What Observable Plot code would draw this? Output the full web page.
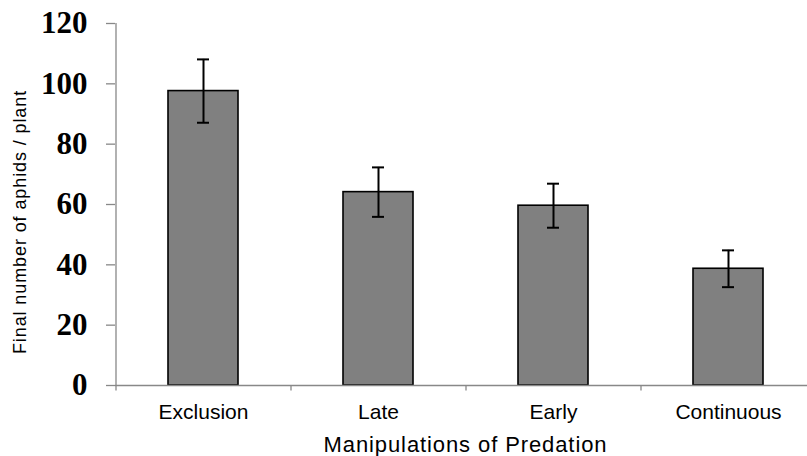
<!DOCTYPE html>
<html>
<head>
<meta charset="utf-8">
<script src="https://cdn.jsdelivr.net/npm/d3@7"></script>
<script src="https://cdn.jsdelivr.net/npm/@observablehq/plot@0.6"></script>
<style>
  html, body { margin: 0; padding: 0; background: #fff; }
</style>
</head>
<body>
<div id="chart"></div>
<script>
const categories = ["Exclusion", "Late", "Early", "Continuous"];
const means = [97.6, 64.1, 59.6, 38.7];
const errors = [10.5, 8.2, 7.3, 6.1];
const yTicks = [0, 20, 40, 60, 80, 100, 120];
const yTitle = "Final number of aphids / plant";
const xTitle = "Manipulations of Predation";

const data = categories.map((c, i) => ({c, m: means[i], e: errors[i]}));
const gray = "#888";
const halfStep = 87.5;

const chart = Plot.plot({
  width: 807,
  height: 456,
  marginLeft: 115,
  marginRight: 0,
  marginTop: 23,
  marginBottom: 71,
  style: {fontFamily: "'Liberation Sans', Arial, sans-serif", background: "white", color: "#000"},
  x: {domain: categories, range: [115, 815], paddingInner: 0.6, paddingOuter: 0.3},
  y: {domain: [0, 120]},
  marks: [
    Plot.barY(data, {x: "c", y: "m", fill: "#808080", stroke: "#000", strokeWidth: 1.6}),
    Plot.ruleY([0], {stroke: gray, strokeWidth: 1.3}),
    Plot.ruleX([categories[0]], {x: d => d, dx: -halfStep, y1: 0, y2: 120, stroke: gray, strokeWidth: 1.3}),
    Plot.ruleX(categories, {x: d => d, dx: -halfStep, y1: 0, y2: -1.8, stroke: gray, strokeWidth: 1.3}),
    Plot.axisY({ticks: yTicks, tickSize: 9, tickPadding: 19, stroke: gray, strokeWidth: 1.3, fill: "#000",
      fontSize: 31, fontWeight: "bold", fontFamily: "'Liberation Serif', 'Times New Roman', serif", label: null}),
    Plot.axisX({tickSize: 0, tickPadding: 19, fontSize: 21, fill: "#000", label: null}),
    Plot.ruleX(data, {x: "c", y1: d => d.m - d.e, y2: d => d.m + d.e, stroke: "#000", strokeWidth: 2}),
    Plot.tickY(data, {x: "c", y: d => d.m + d.e, insetLeft: 29, insetRight: 29, stroke: "#000", strokeWidth: 2}),
    Plot.tickY(data, {x: "c", y: d => d.m - d.e, insetLeft: 29, insetRight: 29, stroke: "#000", strokeWidth: 2}),
    Plot.text([yTitle], {frameAnchor: "left", textAnchor: "middle", lineAnchor: "middle", rotate: -90,
      dx: -95, dy: 17.5, fontSize: 18, fill: "#000"}),
    Plot.text([xTitle], {frameAnchor: "bottom", textAnchor: "middle", lineAnchor: "middle",
      dx: 4, dy: 59.5, fontSize: 22, fill: "#000"})
  ]
});
chart.querySelectorAll("text").forEach(t => {
  if (t.textContent === xTitle || t.textContent === yTitle) t.style.letterSpacing = "0.9px";
});
document.getElementById("chart").append(chart);
</script>
</body>
</html>
